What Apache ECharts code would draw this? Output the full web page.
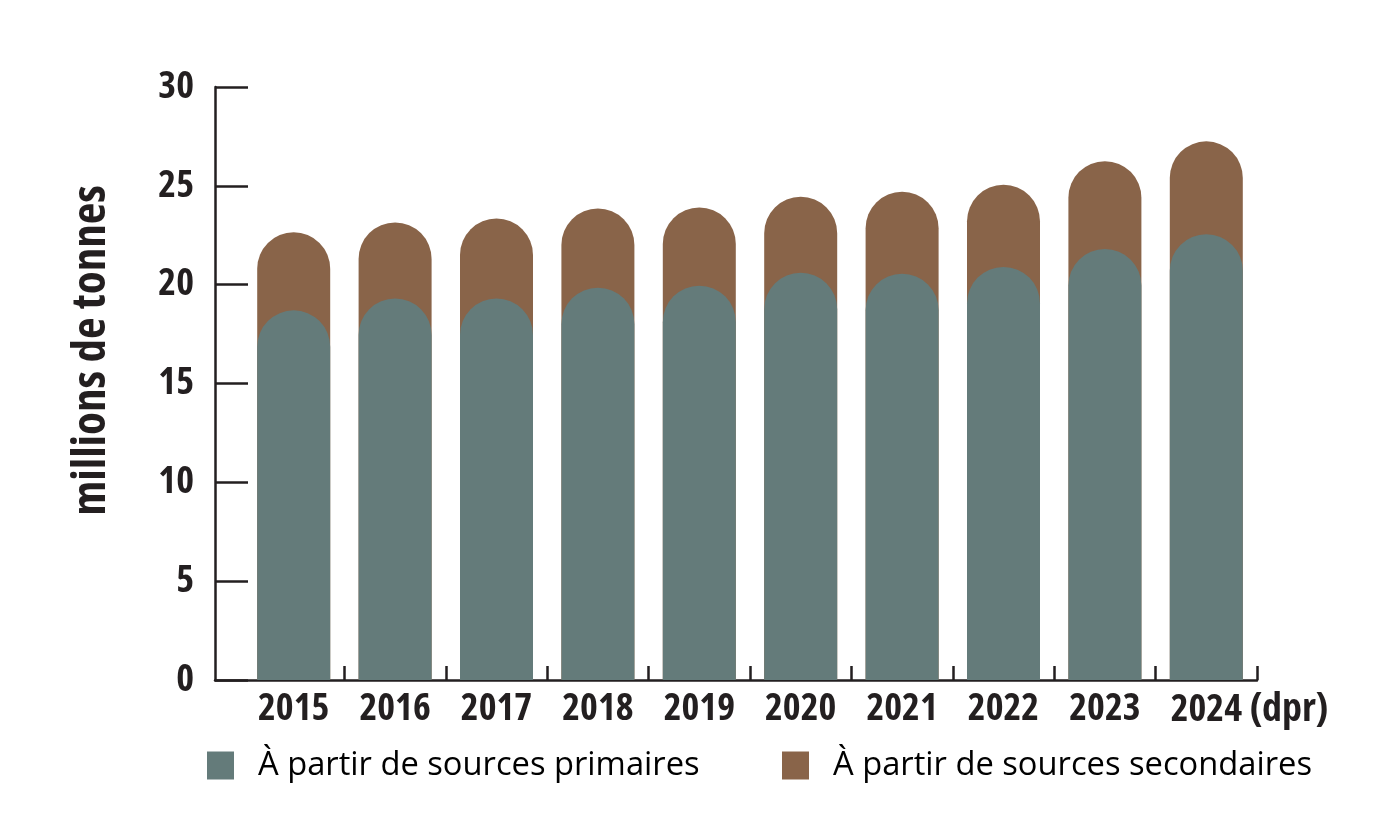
<!DOCTYPE html>
<html>
<head>
<meta charset="utf-8">
<script src="https://cdn.jsdelivr.net/npm/echarts@6/dist/echarts.min.js"></script>
<style>
html,body{margin:0;padding:0;background:#fff;}
#chart{width:1380px;height:837px;}
</style>
</head>
<body>
<div id="chart"></div>
<script>
// Data (millions de tonnes)
const years = ['2015','2016','2017','2018','2019','2020','2021','2022','2023','2024'];
const primary = [18.7, 19.3, 19.3, 19.85, 19.95, 20.6, 20.55, 20.9, 21.8, 22.55];
const secondary = [3.95, 3.85, 4.05, 4.0, 3.95, 3.85, 4.15, 4.15, 4.45, 4.7];
const yTicks = [0, 5, 10, 15, 20, 25, 30];
const lastSuffix = '(dpr)';
const primaryName = 'À partir de sources primaires';
const secondaryName = 'À partir de sources secondaires';
const yName = 'millions de tonnes';

const total = primary.map((p, i) => +(p + secondary[i]).toFixed(2));

const ink = '#231f20';
const teal = '#647b7a';
const brown = '#896449';
const boldFont = "'Open Sans'";
const boldW = 'bold condensed';
const regFont = "'Open Sans', 'Noto Sans', sans-serif";

const chart = echarts.init(document.getElementById('chart'), null, {renderer: 'canvas'});

const option = {
  animation: false,
  backgroundColor: '#fff',
  grid: [
    {left: 243, right: 123, top: 87, bottom: 157},
    {left: 215, right: 123, top: 87, bottom: 157}
  ],
  legend: [
    {
      data: [primaryName], left: 202, top: 744, selectedMode: false,
      icon: 'rect', itemWidth: 27, itemHeight: 28,
      textStyle: {fontFamily: regFont, fontSize: 32.7, color: '#000', padding: [0, 0, 0, 19]}
    },
    {
      data: [secondaryName], left: 777, top: 744, selectedMode: false,
      icon: 'rect', itemWidth: 27, itemHeight: 28,
      textStyle: {fontFamily: regFont, fontSize: 32.7, color: '#000', padding: [0, 0, 0, 19]}
    }
  ],
  xAxis: [
    {
      type: 'category', gridIndex: 0, data: years,
      axisLine: {show: false},
      axisTick: {show: true, inside: true, length: 14, interval: function (i) { return i > 0; },
        lineStyle: {color: ink, width: 2.5}},
      axisLabel: {
        interval: 0, margin: 10, color: ink, fontFamily: boldFont, fontWeight: boldW, fontSize: 38,
        formatter: function (v, i) {
          if (i === years.length - 1) return '{sp|}{y|' + v + '}{d|' + lastSuffix + '}';
          return '{y|' + v + '}';
        },
        rich: {
          y: {fontFamily: boldFont, fontWeight: boldW, fontSize: 38, color: ink},
          sp: {width: 86},
          d: {fontFamily: boldFont, fontWeight: boldW, fontSize: 40, color: ink, width: 78, align: 'left', padding: [0, 0, 0, 8]}
        }
      },
      splitLine: {show: false}
    },
    {
      type: 'value', gridIndex: 1, min: 0, max: 1,
      axisLine: {show: true, lineStyle: {color: ink, width: 2.5}},
      axisTick: {show: false}, axisLabel: {show: false}, splitLine: {show: false}
    }
  ],
  yAxis: [
    {type: 'value', gridIndex: 0, min: 0, max: 30, interval: 5, show: false},
    {
      type: 'value', gridIndex: 1, min: yTicks[0], max: yTicks[yTicks.length - 1], interval: 5,
      axisLine: {show: true, lineStyle: {color: ink, width: 2.5}},
      axisTick: {show: true, inside: true, length: 33, lineStyle: {color: ink, width: 2.5}},
      axisLabel: {margin: 21, color: ink, fontFamily: boldFont, fontWeight: boldW, fontSize: 38},
      splitLine: {show: false},
      name: yName, nameLocation: 'middle', nameGap: 100, nameRotate: 90,
      nameTextStyle: {fontFamily: boldFont, fontWeight: boldW, fontSize: 47, color: ink, padding: [0, 0, 0, 66]}
    }
  ],
  series: [
    {
      name: primaryName, type: 'bar', xAxisIndex: 0, yAxisIndex: 0,
      data: primary, barWidth: 73, barGap: '-100%', z: 3,
      itemStyle: {color: teal, borderRadius: [999, 999, 0, 0]}
    },
    {
      name: secondaryName, type: 'bar', xAxisIndex: 0, yAxisIndex: 0,
      data: total, barWidth: 73, barGap: '-100%', z: 2,
      itemStyle: {color: brown, borderRadius: [999, 999, 0, 0]}
    }
  ]
};
chart.setOption(option);
</script>
</body>
</html>
